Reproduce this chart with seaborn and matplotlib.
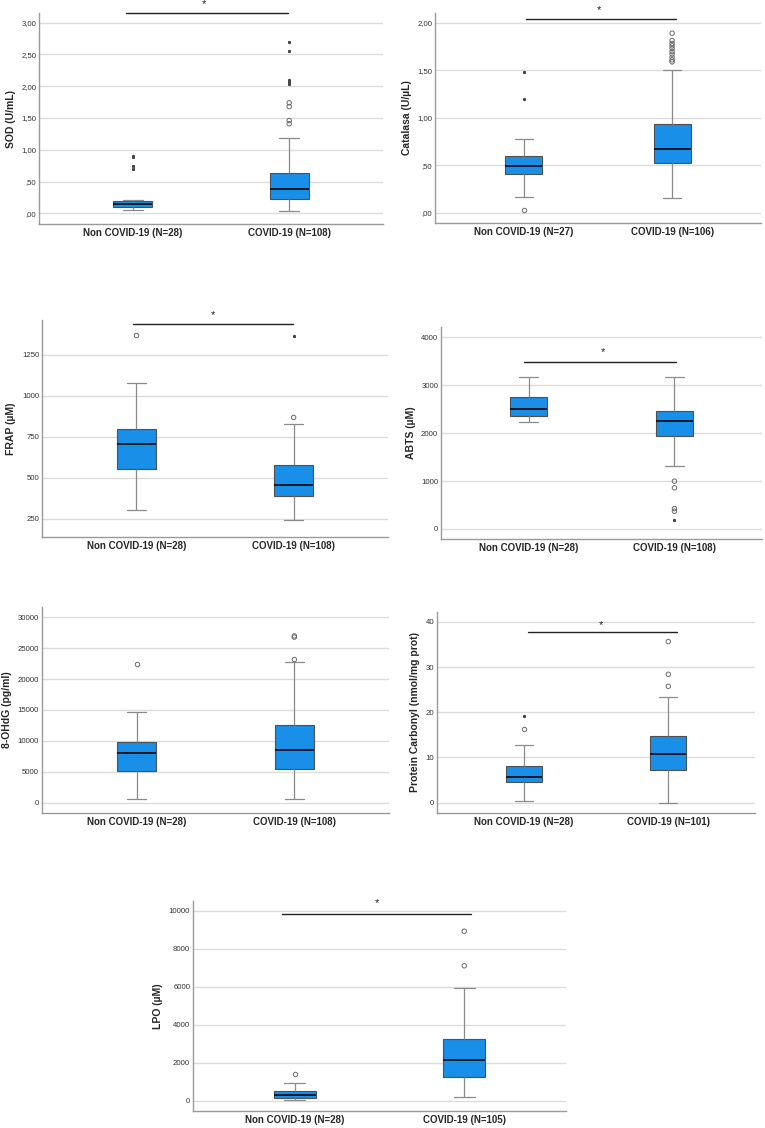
import matplotlib

matplotlib.use("Agg")
import matplotlib.pyplot as plt
import numpy as np
import pandas as pd
import seaborn as sns

GROUPS = ["Non COVID-19", "COVID-19"]

# five-number summaries:
# lower whisker, Q1, median, Q3, upper whisker
sod_non = [0.058, 0.105, 0.147, 0.195, 0.216]
sod_covid = [0.042, 0.22, 0.384, 0.63, 1.19]
sod_circles_non = []
sod_circles_covid = [1.41, 1.46, 1.68, 1.74]
sod_stars_non = [0.70, 0.75, 0.885, 0.895]
sod_stars_covid = [2.037, 2.063, 2.10, 2.553, 2.695]
sod_n = [28, 108]

cat_non = [0.168, 0.409, 0.493, 0.594, 0.78]
cat_covid = [0.157, 0.528, 0.668, 0.937, 1.503]
cat_circles_non = [0.028]
cat_circles_covid = [1.587, 1.608, 1.636, 1.668, 1.696, 1.727, 1.755, 1.78, 1.811, 1.888]
cat_stars_non = [1.20, 1.48]
cat_stars_covid = []
cat_n = [27, 106]

frap_non = [305, 555, 703, 797, 1077]
frap_covid = [242, 386, 457, 577, 831]
frap_circles_non = [1374]
frap_circles_covid = [868]
frap_stars_non = []
frap_stars_covid = [1366]
frap_n = [28, 108]

abts_non = [2234, 2367, 2506, 2764, 3169]
abts_covid = [1305, 1941, 2262, 2464, 3169]
abts_circles_non = []
abts_circles_covid = [370, 426, 859, 998]
abts_stars_non = []
abts_stars_covid = [181]
abts_n = [28, 108]

ohdg_non = [650, 5144, 7960, 9747, 14675]
ohdg_covid = [650, 5469, 8447, 12563, 22797]
ohdg_circles_non = [22473]
ohdg_circles_covid = [23176, 26800, 27000]
ohdg_stars_non = []
ohdg_stars_covid = []
ohdg_n = [28, 108]

pc_non = [0.37, 4.50, 5.61, 8.04, 12.77]
pc_covid = [0.0, 7.23, 10.77, 14.69, 23.39]
pc_circles_non = [16.31]
pc_circles_covid = [25.76, 28.41, 35.65]
pc_stars_non = [19.11]
pc_stars_covid = []
pc_n = [28, 101]

lpo_non = [53, 158, 298, 508, 946]
lpo_covid = [193, 1243, 2137, 3240, 5937]
lpo_circles_non = [1401]
lpo_circles_covid = [7110, 8932]
lpo_stars_non = []
lpo_stars_covid = []
lpo_n = [28, 105]

BOX_COLOR = "#1a8fe8"
W, H = 765, 1128


def spss_fmt(v):
  s = f"{v:.2f}".replace(".", ",")
  return s[1:] if s.startswith("0,") else s


def long_df(a, b):
  return pd.DataFrame(
    {"group": [GROUPS[0]] * len(a) + [GROUPS[1]] * len(b), "value": list(a) + list(b)}
  )


PANELS = [
  dict(rect=(39, 13, 383, 224), label="SOD (U/mL)", n=sod_n,
       box=(sod_non, sod_covid), circ=(sod_circles_non, sod_circles_covid),
       star=(sod_stars_non, sod_stars_covid), ylim=(-0.168, 3.153),
       ticks=np.arange(0, 3.01, 0.5), comma=True,
       sig=(-0.044, 0.993, 3.157, 3.30, 0.455)),
  dict(rect=(435, 13, 761, 223), label="Catalasa (U/µL)", n=cat_n,
       box=(cat_non, cat_covid), circ=(cat_circles_non, cat_circles_covid),
       star=(cat_stars_non, cat_stars_covid), ylim=(-0.105, 2.10),
       ticks=np.arange(0, 2.01, 0.5), comma=True,
       sig=(0.012, 1.026, 2.036, 2.13, 0.505)),
  dict(rect=(42, 320, 388, 537), label="FRAP (µM)", n=frap_n,
       box=(frap_non, frap_covid), circ=(frap_circles_non, frap_circles_covid),
       star=(frap_stars_non, frap_stars_covid), ylim=(138, 1463),
       ticks=[250, 500, 750, 1000, 1250], comma=False,
       sig=(-0.021, 0.996, 1441, 1490, 0.489)),
  dict(rect=(441, 327, 762, 539), label="ABTS (µM)", n=abts_n,
       box=(abts_non, abts_covid), circ=(abts_circles_non, abts_circles_covid),
       star=(abts_stars_non, abts_stars_covid), ylim=(-209, 4216),
       ticks=[0, 1000, 2000, 3000, 4000], comma=False,
       sig=(-0.031, 1.011, 3483, 3690, 0.508)),
  dict(rect=(42, 607, 389, 813), label="8-OHdG (pg/ml)", n=ohdg_n,
       box=(ohdg_non, ohdg_covid), circ=(ohdg_circles_non, ohdg_circles_covid),
       star=(ohdg_stars_non, ohdg_stars_covid), ylim=(-1679, 31678),
       ticks=[0, 5000, 10000, 15000, 20000, 25000, 30000], comma=False,
       sig=None),
  dict(rect=(437, 612, 755, 813), label="Protein Carbonyl (nmol/mg prot)", n=pc_n,
       box=(pc_non, pc_covid), circ=(pc_circles_non, pc_circles_covid),
       star=(pc_stars_non, pc_stars_covid), ylim=(-2.29, 42.2),
       ticks=[0, 10, 20, 30, 40], comma=False,
       sig=(0.03, 1.06, 37.79, 39.4, 0.537)),
  dict(rect=(193, 901, 566, 1111), label="LPO (µM)", n=lpo_n,
       box=(lpo_non, lpo_covid), circ=(lpo_circles_non, lpo_circles_covid),
       star=(lpo_stars_non, lpo_stars_covid), ylim=(-543, 10525),
       ticks=[0, 2000, 4000, 6000, 8000, 10000], comma=False,
       sig=(-0.075, 1.04, 9825, 10400, 0.483)),
]

sns.set_style("white")
plt.rcParams["font.family"] = ["Liberation Sans", "DejaVu Sans"]

fig = plt.figure(figsize=(W / 100, H / 100), dpi=100)

for p in PANELS:
  left, top, right, bottom = p["rect"]
  ax = fig.add_axes([left / W, 1 - bottom / H, (right - left) / W, (bottom - top) / H])

  sns.boxplot(
    data=long_df(*p["box"]), x="group", y="value", order=GROUPS, ax=ax,
    whis=np.inf, width=0.25, showfliers=False, saturation=1,
    color=BOX_COLOR, linecolor="#505050", linewidth=0.8,
    medianprops={"color": "#0d1a2a", "linewidth": 1.4},
    whiskerprops={"color": "#8a8a8a", "linewidth": 0.9},
    capprops={"color": "#8a8a8a", "linewidth": 0.9},
  )

  circ = long_df(*p["circ"])
  if len(circ):
    sns.stripplot(data=circ, x="group", y="value", order=GROUPS, ax=ax,
                  jitter=False, marker="o", size=3.2, color="white",
                  edgecolor="#6a6a6a", linewidth=0.7)
    ax.collections[-1].set_facecolor("none")
  stars = long_df(*p["star"])
  if len(stars):
    sns.stripplot(data=stars, x="group", y="value", order=GROUPS, ax=ax,
                  jitter=False, marker=(6, 2, 0), size=1.8, color="#444444",
                  linewidth=0.6)

  ax.set_xlim(-0.6, 1.6)
  ax.set_ylim(*p["ylim"])
  ax.set_yticks(p["ticks"])
  if p["comma"]:
    ax.set_yticklabels([spss_fmt(t) for t in p["ticks"]])
  else:
    ax.set_yticklabels([f"{int(t)}" for t in p["ticks"]])
  ax.set_xticks([0, 1])
  ax.set_xticklabels([f"{g} (N={n})" for g, n in zip(GROUPS, p["n"])],
                     fontsize=7, fontweight="bold")
  ax.tick_params(axis="y", length=0, labelsize=5.6, labelcolor="#333333", pad=2)
  ax.tick_params(axis="x", length=0, pad=3)
  ax.set_xlabel("")
  ax.set_ylabel(p["label"], fontsize=7.5, fontweight="bold", labelpad=4)

  ax.yaxis.grid(True, color="#dcdcdc", linewidth=1)
  ax.set_axisbelow(True)
  for side in ("top", "right"):
    ax.spines[side].set_visible(False)
  for side in ("left", "bottom"):
    ax.spines[side].set_color("#9a9a9a")
    ax.spines[side].set_linewidth(1)

  if p["sig"] is not None:
    x0, x1, yl, ys, xs = p["sig"]
    ax.plot([x0, x1], [yl, yl], color="#222222", linewidth=1, clip_on=False)
    ax.text(xs, ys, "*", ha="center", va="center", fontsize=8,
            color="#222222", clip_on=False)

fig.savefig("out.png", dpi=100)
